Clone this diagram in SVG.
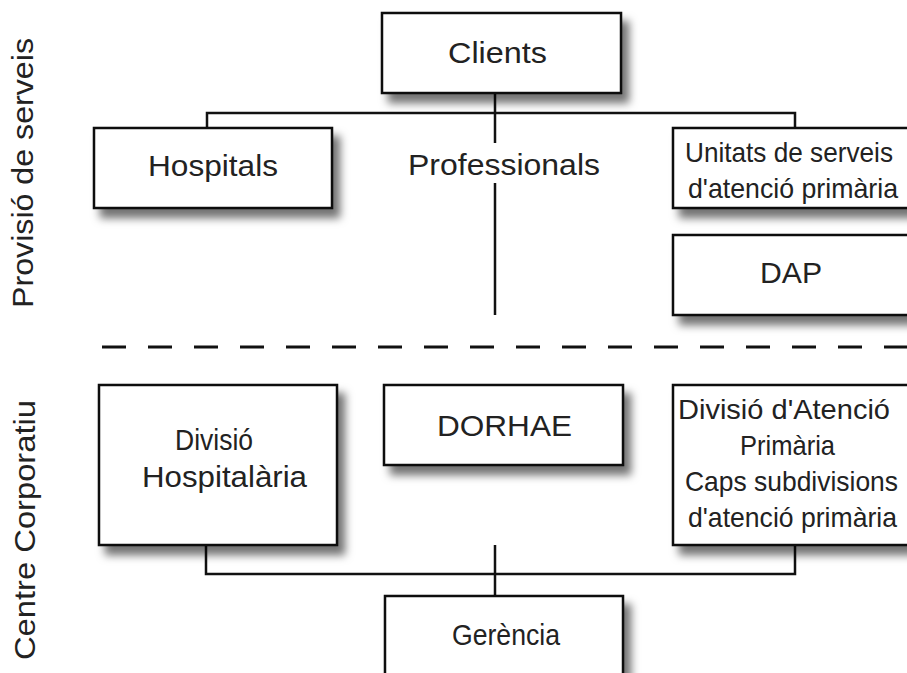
<svg xmlns="http://www.w3.org/2000/svg" width="907" height="673" viewBox="0 0 907 673">
<defs>
<filter id="sh" x="-10%" y="-10%" width="130%" height="140%">
<feDropShadow dx="7" dy="9" stdDeviation="4.5" flood-color="#000" flood-opacity="0.55"/>
</filter>
<style>
.box{fill:#fff;stroke:#111;stroke-width:2.5;filter:url(#sh)}
.ln{fill:none;stroke:#111;stroke-width:2.5}
.dash{fill:none;stroke:#111;stroke-width:3;stroke-dasharray:24 22}
text{font-family:"Liberation Sans",Arial,sans-serif;font-size:29px;fill:#222}
.c{font-size:28px}
</style>
</defs>
<rect width="907" height="673" fill="#fff"/>
<g id="connectors">
<path class="ln" d="M495 93V143M495 183V315M207 128V113H795V128"/>
<path class="ln" d="M206 545V574H795V545M495 545V596"/>
<path class="dash" d="M102 347H907"/>
</g>
<g id="label-provisio"><text transform="translate(33,308) rotate(-90)" textLength="270" lengthAdjust="spacingAndGlyphs">Provisió de serveis</text></g>
<g id="label-centre"><text transform="translate(35,660) rotate(-90)" textLength="260" lengthAdjust="spacingAndGlyphs">Centre Corporatiu</text></g>
<g id="clients"><rect class="box" x="382" y="13" width="239" height="80"/><text x="448" y="63" textLength="99" lengthAdjust="spacingAndGlyphs">Clients</text></g>
<g id="hospitals"><rect class="box" x="94" y="128" width="238" height="80"/><text x="148" y="176" textLength="130" lengthAdjust="spacingAndGlyphs">Hospitals</text></g>
<g id="professionals"><text x="408" y="175" textLength="192" lengthAdjust="spacingAndGlyphs">Professionals</text></g>
<g id="unitats"><rect class="box" x="673" y="128" width="239" height="80"/><text class="c" x="685" y="162" textLength="208" lengthAdjust="spacingAndGlyphs">Unitats de serveis</text><text class="c" x="688" y="198" textLength="210" lengthAdjust="spacingAndGlyphs">d'atenció primària</text></g>
<g id="dap"><rect class="box" x="673" y="235" width="239" height="80"/><text x="760" y="283" textLength="62" lengthAdjust="spacingAndGlyphs">DAP</text></g>
<g id="divisio-hospitalaria"><rect class="box" x="99" y="385" width="238" height="160"/><text x="175" y="450" textLength="78" lengthAdjust="spacingAndGlyphs">Divisió</text><text x="142" y="487" textLength="165" lengthAdjust="spacingAndGlyphs">Hospitalària</text></g>
<g id="dorhae"><rect class="box" x="384" y="385" width="239" height="80"/><text x="437" y="436" textLength="135" lengthAdjust="spacingAndGlyphs">DORHAE</text></g>
<g id="divisio-atencio"><rect class="box" x="673" y="385" width="239" height="160"/><text class="c" x="678" y="419" textLength="212" lengthAdjust="spacingAndGlyphs">Divisió d'Atenció</text><text class="c" x="740" y="455" textLength="95" lengthAdjust="spacingAndGlyphs">Primària</text><text class="c" x="685" y="491" textLength="213" lengthAdjust="spacingAndGlyphs">Caps subdivisions</text><text class="c" x="688" y="527" textLength="209" lengthAdjust="spacingAndGlyphs">d'atenció primària</text></g>
<g id="gerencia"><rect class="box" x="385" y="596" width="238" height="100"/><text x="452" y="645" textLength="108" lengthAdjust="spacingAndGlyphs">Gerència</text></g>
</svg>
